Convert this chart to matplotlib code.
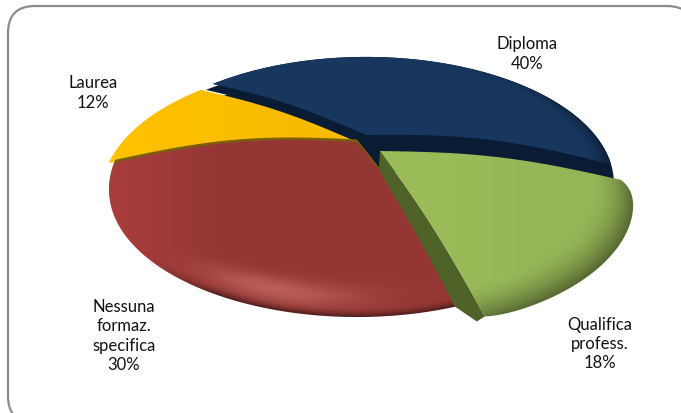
import numpy as np
import matplotlib
matplotlib.use('Agg')
import matplotlib.pyplot as plt
from matplotlib.patches import FancyBboxPatch, PathPatch, Polygon
from matplotlib.path import Path

# Data
categories = ['Laurea', 'Diploma', 'Qualifica\nprofess.', 'Nessuna\nformaz.\nspecifica']
shares = [12, 40, 18, 30]

plt.rcParams['font.family'] = ['Lato', 'DejaVu Sans']

W, H = 681, 414
RX, RY, K = 229.0, 108.0, 0.383   # disc radii and perspective strength
WARP = 0.15                       # foreshortening of the slice angles
START = 181.5


def project(theta, r, apex):
    # slice angle (degrees) and radius on the disc -> pixel position
    t = np.radians(theta)
    t = t - WARP * np.cos(t)
    u, v = r * np.cos(t), r * np.sin(t)
    s = 1 / (1 + K * v)
    return apex[0] + RX * u * s, apex[1] - RY * v * s


def edge_points(theta, r, apex, bulge):
    # radial edge, bowed upwards because the pie is domed
    t = np.linspace(0, 1, 40)
    ex, ey = project(theta, r, apex)
    return apex[0] + (ex - apex[0]) * t, apex[1] + (ey - apex[1]) * t - bulge * np.sin(np.pi * t)


def wedge_points(a0, a1, apex, r=1.0, bulge=(0, 0), shift=(0, 0), soften=(0, 0)):
    th = np.linspace(a0, a1, 200)
    # optional rounding of the two outer corners
    rr = r * (1 - soften[0] * np.exp(-(a0 - th) / 3.5) - soften[1] * np.exp(-(th - a1) / 3.5))
    x, y = project(th, rr, apex)
    x0, y0 = edge_points(a0, rr[0], apex, bulge[0])
    x1, y1 = edge_points(a1, rr[-1], apex, bulge[1])
    xs = np.r_[x0, x, x1[::-1]] + shift[0]
    ys = np.r_[y0, y, y1[::-1]] + shift[1]
    return np.column_stack([xs, ys])


def disc_radius(apex):
    # radius on the disc and pixel grid, for the shading of each slice
    X, Y = np.meshgrid(np.arange(W) + 0.5, np.arange(H) + 0.5)
    x = (X - apex[0]) / RX
    y = (apex[1] - Y) / RY
    d = 1 - K * y
    return np.hypot(x / d, y / d), X, Y


def paint(ax, pts, rgb, shade, zorder, lift=0.0):
    # fill a slice with a per-pixel colour map clipped to its outline
    img = np.clip(np.dstack([rgb[i] * shade + lift for i in range(3)]), 0, 1)
    im = ax.imshow(img, extent=(0, W, H, 0), zorder=zorder, interpolation='bilinear', aspect='auto')
    patch = PathPatch(Path(pts), fc='none', ec='none', transform=ax.transData)
    ax.add_patch(patch)
    im.set_clip_path(patch)


def hexrgb(c):
    return np.array(matplotlib.colors.to_rgb(c))


fig = plt.figure(figsize=(W / 100, H / 100), dpi=100)
ax = fig.add_axes([0, 0, 1, 1])
ax.set_xlim(0, W)
ax.set_ylim(H, 0)
ax.axis('off')

# chart frame, running past the right and bottom of the figure
ax.add_patch(FancyBboxPatch((8 + 27, 7 + 27), 694 - 8 - 54, 424 - 7 - 54, boxstyle='round,pad=27,rounding_size=27',
                            fc='white', ec='#8c8c8c', lw=1.6, zorder=0))

# slice angles, clockwise from the start angle
edges = START - np.r_[0, np.cumsum(shares)] * 3.6
apex_yellow = (357, 143)
apex_blue = (366, 136)
apex_green = (380, 152)
apex_red = (357, 143)

# navy slice: dark wall then top face
dark = '#0a1c33'
ax.add_patch(Polygon(wedge_points(edges[1], edges[2], apex_blue, bulge=(5, 5), shift=(-7, 6)), fc=dark, ec='none', zorder=1))
ax.add_patch(Polygon(wedge_points(edges[1], edges[2], apex_blue, bulge=(5, 5), shift=(0, 16)), fc=dark, ec='none', zorder=1))
ax.add_patch(Polygon(wedge_points(edges[1], edges[2] - 10, apex_blue, bulge=(5, 0)), fc=dark, ec='none', zorder=1))
ax.add_patch(Polygon(wedge_points(edges[1], edges[2], apex_blue, r=0.25, shift=(6, 34)), fc=dark, ec='none', zorder=1))
r, X, Y = disc_radius(apex_blue)
shade = 1 - 0.4 * np.clip((r - 0.9) / 0.1, 0, 1) ** 2 * np.clip((X - 450) / 150, 0, 1)
paint(ax, wedge_points(edges[1], edges[2], apex_blue, bulge=(5, 10)), hexrgb('#17375e'), shade, 2)

# yellow slice
r, X, Y = disc_radius(apex_yellow)
shade = 1 - 0.03 * np.clip((X - 150) / 200, 0, 1)
paint(ax, wedge_points(edges[0], edges[1], apex_yellow, r=1.025, bulge=(0, 5)), hexrgb('#ffc000'), shade, 3)

# olive lip between yellow and red
red_pts = wedge_points(edges[3], edges[4], apex_red, bulge=(11, 10))
ax.add_patch(Polygon(red_pts + [0, -2.5], fc='#7a5f08', ec='none', zorder=4))

# red slice: brighter on the left, a lit band inside the lower rim, dark outer rim
r, X, Y = disc_radius(apex_red)
band = np.exp(-((r - 0.925) / 0.05) ** 2) * np.exp(-((X - 275) / 85) ** 2) * np.clip((Y - 250) / 30, 0, 1)
left = np.clip((230 - X) / 120, 0, 1)
rim = np.clip((r - 0.965) / 0.035, 0, 1) ** 2 * np.clip((Y - 230) / 60, 0, 1) * np.clip((X - 140) / 80, 0, 1)
shade = 1 + 0.14 * left - 0.5 * rim
lift = 0.15 * band * (1 - rim)
paint(ax, red_pts, hexrgb('#933634'), shade, 5, lift=lift)

# green slice: side wall then top face
th0, th1 = edges[2], edges[3]
green_soft = (0.035, 0.012)
ex, ey = edge_points(th1, 1.02 * (1 - green_soft[1]), apex_green, 7)
t = np.linspace(0, 1, 40)
low_x = ex + (-1 - 29 * t ** 0.7)
low_y = ey + (15 - 25 * t)
wall = np.column_stack([np.r_[ex, ex[-1] - 8, low_x[::-1]], np.r_[ey, ey[-1] + 5, low_y[::-1]]])
ax.add_patch(Polygon(wall, fc='#4f6228', ec='none', zorder=6))
r, X, Y = disc_radius(apex_green)
rim = np.clip((r - 0.87) / 0.15, 0, 1) ** 2
shade = 1 - 0.42 * rim - 0.03 * np.clip((X - 450) / 100, 0, 1)
paint(ax, wedge_points(th0, th1, apex_green, r=1.02, bulge=(8, 7), soften=green_soft), hexrgb('#9bbb59'), shade, 7)

# labels
label_xy = [(93, 93), (527, 54), (600, 344), (124, 336)]
for (lx, ly), cat, val in zip(label_xy, categories, shares):
    ax.text(lx, ly, f'{cat}\n{val}%', ha='center', va='center', fontsize=12, color='#111111', zorder=9, linespacing=1.25)

fig.savefig('out.png', dpi=100)
